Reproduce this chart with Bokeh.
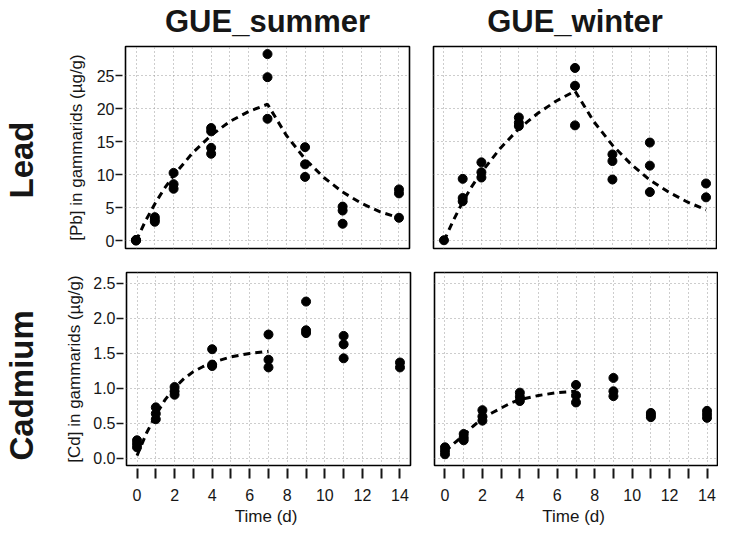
from bokeh.plotting import figure
from bokeh.models import Range1d, FixedTicker, Title, LinearAxis
from bokeh.layouts import column, row
from bokeh.embed import file_html
from bokeh.resources import INLINE

# ---------------- data ----------------
seasons = ["GUE_summer", "GUE_winter"]
metals = ["Lead", "Cadmium"]

pb_summer_t = [0, 0, 0, 1, 1, 1, 2, 2, 2, 4, 4, 4, 4, 7, 7, 7, 9, 9, 9, 11, 11, 11, 14, 14, 14]
pb_summer = [0.05, 0.1, 0.15, 3.6, 3.2, 2.9, 10.3, 8.6, 7.9, 17.1, 16.6, 14.1, 13.2,
             28.3, 24.8, 18.5, 14.2, 11.6, 9.7, 5.2, 4.6, 2.6, 7.8, 7.2, 3.5]

pb_winter_t = [0, 1, 1, 1, 2, 2, 2, 4, 4, 4, 7, 7, 7, 9, 9, 9, 11, 11, 11, 14, 14]
pb_winter = [0.1, 9.4, 6.5, 6.0, 11.9, 10.4, 9.6, 18.7, 17.9, 17.4, 26.2, 23.5, 17.5,
             13.1, 12.1, 9.3, 14.9, 11.4, 7.4, 8.7, 6.6]

cd_summer_t = [0, 0, 0, 1, 1, 1, 2, 2, 2, 4, 4, 4, 7, 7, 7, 9, 9, 9, 11, 11, 11, 14, 14]
cd_summer = [0.26, 0.21, 0.16, 0.73, 0.64, 0.56, 1.02, 0.96, 0.91, 1.56, 1.34, 1.32,
             1.77, 1.41, 1.30, 2.24, 1.83, 1.79, 1.75, 1.63, 1.43, 1.37, 1.30]

cd_winter_t = [0, 0, 0, 1, 1, 1, 2, 2, 2, 4, 4, 4, 7, 7, 7, 9, 9, 9, 11, 11, 11, 14, 14, 14]
cd_winter = [0.16, 0.11, 0.06, 0.35, 0.30, 0.26, 0.69, 0.60, 0.54, 0.94, 0.88, 0.82,
             1.05, 0.90, 0.80, 1.15, 0.96, 0.89, 0.65, 0.62, 0.59, 0.68, 0.63, 0.58]

# fitted curves (dashed)
pb_fit_t = [0, 0.5, 1, 1.5, 2, 3, 4, 5, 6, 7, 8, 9, 10, 11, 12, 13, 14]
pb_summer_fit = [0.0, 3.0, 5.6, 7.9, 9.9, 13.3, 16.0, 18.1, 19.6, 20.7,
                 16.0, 12.4, 9.6, 7.4, 5.7, 4.4, 3.5]
pb_winter_fit = [0.0, 3.1, 5.9, 8.3, 10.4, 14.0, 17.0, 19.3, 21.2, 22.7,
                 18.1, 14.5, 11.6, 9.2, 7.4, 5.9, 4.7]

cd_fit_t = [0, 0.5, 1, 1.5, 2, 2.5, 3, 3.5, 4, 5, 6, 7]
cd_summer_fit = [0.04, 0.36, 0.62, 0.84, 1.01, 1.14, 1.24, 1.31, 1.37, 1.45, 1.50, 1.53]
cd_winter_fit = [0.10, 0.22, 0.33, 0.46, 0.57, 0.65, 0.72, 0.79, 0.84, 0.90, 0.94, 0.96]

x_major = [0, 2, 4, 6, 8, 10, 12, 14]
x_minor = [1, 3, 5, 7, 9, 11, 13]
x_grid = list(range(0, 15))
pb_ticks = [0, 5, 10, 15, 20, 25]
cd_ticks = [0.0, 0.5, 1.0, 1.5, 2.0, 2.5]
cd_tick_labels = {0.0: "0.0", 0.5: "0.5", 1.0: "1.0", 1.5: "1.5", 2.0: "2.0", 2.5: "2.5"}
pb_label = "[Pb] in gammarids (\u00b5g/g)"
cd_label = "[Cd] in gammarids (\u00b5g/g)"
x_label = "Time  (d)"

FONT = "Liberation Sans"
INK = "#161616"


def panel(tx, vy, ft, fv, yr, yticks, left, top, col_title=None,
          row_title=None, ylabel=None, lab_standoff=8, spacer=20,
          row_offset=0, yfmt=None):
    fw = 284 if left else 283
    fh = 202 if top else 193
    p = figure(frame_width=fw, frame_height=fh,
               x_range=Range1d(-0.56, 14.56), y_range=Range1d(*yr),
               output_backend="svg", toolbar_location=None,
               min_border_left=121 if left else 12,
               min_border_right=12 if left else 1,
               min_border_top=46 if top else 12,
               min_border_bottom=12 if top else 59)
    p.title.text = ""
    p.background_fill_color = "white"
    p.border_fill_color = "white"
    p.outline_line_color = "black"
    p.outline_line_width = 1.6

    # grid
    p.xgrid.ticker = FixedTicker(ticks=x_grid)
    p.ygrid.ticker = FixedTicker(ticks=yticks)
    for g in (p.xgrid, p.ygrid):
        g.grid_line_color = "#9a9a9a"
        g.grid_line_dash = "1 3"
        g.grid_line_width = 1

    # x axis
    xa = p.xaxis[0]
    xa.ticker = FixedTicker(ticks=x_major, minor_ticks=x_minor)
    xa.axis_line_color = None
    xa.major_tick_in = -3
    xa.major_tick_out = 13
    xa.minor_tick_in = -3
    xa.minor_tick_out = 13
    xa.major_tick_line_width = 2
    xa.minor_tick_line_width = 2
    xa.major_tick_line_color = INK
    xa.minor_tick_line_color = INK
    xa.major_label_text_font = FONT
    xa.major_label_text_font_size = "16px"
    xa.major_label_text_color = INK
    xa.major_label_standoff = 10
    xa.axis_label = x_label
    xa.axis_label_text_font = FONT
    xa.axis_label_text_font_size = "17px"
    xa.axis_label_text_font_style = "normal"
    xa.axis_label_text_color = INK
    xa.axis_label_standoff = 3
    xa.visible = not top

    # y axis
    ya = p.yaxis[0]
    ya.ticker = FixedTicker(ticks=yticks)
    ya.axis_line_color = None
    ya.minor_tick_line_color = None
    ya.major_tick_in = -3
    ya.major_tick_out = 10
    ya.major_tick_line_width = 1.6
    ya.major_tick_line_color = INK
    ya.major_label_text_font = FONT
    ya.major_label_text_font_size = "16px"
    ya.major_label_text_color = INK
    ya.major_label_standoff = 1
    if yfmt is not None:
        ya.major_label_overrides = yfmt
    if ylabel:
        ya.axis_label = ylabel
        ya.axis_label_text_font = FONT
        ya.axis_label_text_font_size = "17px"
        ya.axis_label_text_font_style = "normal"
        ya.axis_label_text_color = INK
        ya.axis_label_standoff = lab_standoff
    ya.visible = left

    if col_title:
        ta = LinearAxis(ticker=FixedTicker(ticks=[]), axis_label=col_title,
                        axis_line_color=None, major_tick_line_color=None,
                        minor_tick_line_color=None,
                        axis_label_text_font=FONT, axis_label_text_font_size="31px",
                        axis_label_text_font_style="bold", axis_label_text_color=INK,
                        axis_label_standoff=8)
        p.add_layout(ta, "above")

    if row_title:
        sp = LinearAxis(ticker=FixedTicker(ticks=[]), axis_label=" ",
                        axis_line_color=None, major_tick_line_color=None,
                        minor_tick_line_color=None,
                        axis_label_text_font_size="1px",
                        axis_label_standoff=spacer)
        p.add_layout(sp, "left")
        t = Title(text=row_title, align="left", vertical_align="bottom",
                  text_font=FONT, text_font_size="33px", text_font_style="bold",
                  text_color=INK, standoff=0, offset=row_offset)
        p.add_layout(t, "left")

    p.line(ft, fv, line_color="black", line_width=3, line_dash="7 5")
    p.scatter(tx, vy, size=9, fill_color="black", line_color="black")
    return p


pb_range = (-1.15, 29.45)
cd_range = (-0.10, 2.655)

tl = panel(pb_summer_t, pb_summer, pb_fit_t, pb_summer_fit, pb_range, pb_ticks,
           True, True, col_title=seasons[0], row_title=metals[0],
           ylabel=pb_label, lab_standoff=8, spacer=20, row_offset=50)
tr = panel(pb_winter_t, pb_winter, pb_fit_t, pb_winter_fit, pb_range, pb_ticks,
           False, True, col_title=seasons[1])
bl = panel(cd_summer_t, cd_summer, cd_fit_t, cd_summer_fit, cd_range, cd_ticks,
           True, False, row_title=metals[1], ylabel=cd_label,
           lab_standoff=6, spacer=19, row_offset=5, yfmt=cd_tick_labels)
br = panel(cd_winter_t, cd_winter, cd_fit_t, cd_winter_fit, cd_range, cd_ticks,
           False, False)

layout = column(row(tl, tr), row(bl, br))
open("out.html", "w").write(file_html(layout, INLINE))
